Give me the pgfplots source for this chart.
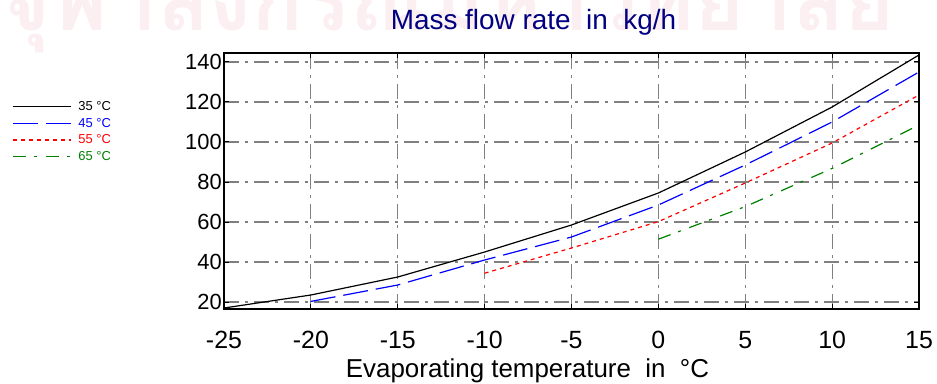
\documentclass[border=0pt]{standalone}
\usepackage{fontspec}
\setmainfont{Liberation Sans}
\newfontfamily\thaifont[Script=Thai]{Loma}
\usepackage{pgfplots}
\pgfplotsset{compat=1.18}
\definecolor{gridgray}{RGB}{128,128,128}
\definecolor{titleblue}{RGB}{0,0,128}
\definecolor{ggreen}{RGB}{0,128,0}
\definecolor{wm}{RGB}{220,120,150}
\begin{document}
\begin{tikzpicture}[x=1bp,y=1bp]
\path[use as bounding box] (-224,-74) rectangle (713,309);
\node[anchor=base west, text=wm, text opacity=0.12, font=\thaifont\bfseries\fontsize{86}{86}\selectfont, inner sep=0pt] at (-224,279) {จุฬาลงกรณ์มหาวิทยาลัย};
\begin{axis}[
  at={(0,0)}, anchor=south west,
  scale only axis, width=695bp, height=256bp,
  xmin=-25, xmax=15, ymin=16.5, ymax=144.5,
  xtick={-25,-20,...,15},
  xticklabels={-25,-20,-15,-10,-5,0,5,10,15},
  ytick={20,40,...,140},
  yticklabels={20,40,60,80,100,120,140},
  grid=major,
  major grid style={gridgray, line width=1.2bp, dash pattern=on 15bp off 6bp on 3bp off 6bp},
  axis line style={line width=2.5bp},
  tick align=inside, major tick length=5bp,
  tick style={black, line width=1bp},
  xticklabel style={font=\fontsize{25}{25}\selectfont, anchor=base, inner sep=0pt, yshift=-39bp},
  yticklabel style={font=\fontsize{22}{22}\selectfont, anchor=east, inner sep=0pt, xshift=-2bp},
  legend style={at={(-0.305,0.815)}, anchor=north west, draw=none, fill=none,
    font=\fontsize{13}{13}\selectfont, inner sep=0pt, row sep=4bp,
    nodes={inner sep=1bp},
    /tikz/every odd column/.append style={column sep=6bp}},
  legend image code/.code={\draw[#1] (0bp,0bp) -- (58bp,0bp);},
  legend cell align=left,
  clip=false,
]
\addplot[black, line width=1.2bp] coordinates {(-25,17) (-20,23.5) (-15,32.5) (-10,45) (-5,58.5) (0,74.5) (5,95) (10,117.5) (15,143.5)};
\addlegendentry{\textcolor{black}{35 °C}}
\addplot[blue, line width=1.2bp, dash pattern=on 25bp off 8bp] coordinates {(-20,20.3) (-15,28.5) (-10,41) (-5,52.5) (0,68.5) (5,88.5) (10,110) (15,135)};
\addlegendentry{\textcolor{blue}{45 °C}}
\addplot[red, line width=1.2bp, dash pattern=on 4bp off 4bp] coordinates {(-10,34.4) (-5,47) (0,60.2) (5,79.5) (10,99.5) (15,123.5)};
\addlegendentry{\textcolor{red}{55 °C}}
\addplot[ggreen, line width=1.2bp, dash pattern=on 13bp off 8bp on 3bp off 9bp] coordinates {(0,51.4) (5,67.7) (10,86.8) (15,108.5)};
\addlegendentry{\textcolor{ggreen}{65 °C}}
\end{axis}
\node[anchor=base, text=titleblue, font=\fontsize{28}{28}\selectfont, inner sep=0pt] at (309.5,280) {Mass flow rate\ \ in\ \ kg/h};
\node[anchor=base, font=\fontsize{26}{26}\selectfont, inner sep=0pt] at (303.5,-68) {Evaporating temperature\ \ in\ \ °C};
\end{tikzpicture}
\end{document}
